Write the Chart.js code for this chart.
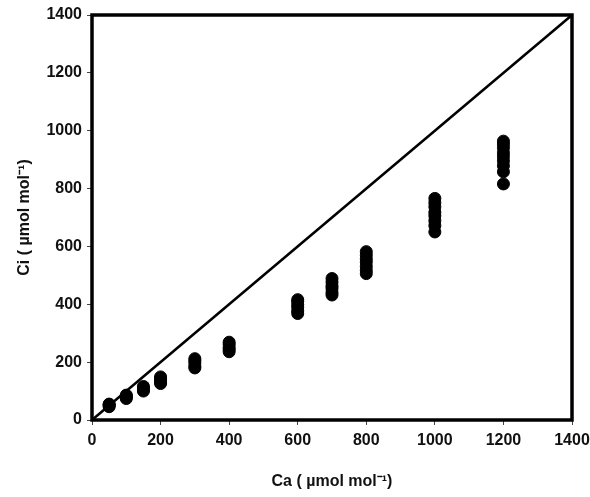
<!DOCTYPE html>
<html>
<head>
<meta charset="utf-8">
<script src="https://cdn.jsdelivr.net/npm/chart.js@4.4.1/dist/chart.umd.min.js"></script>
<style>
  html, body { margin: 0; padding: 0; background: #fff; }
  #wrap { width: 590px; height: 497px; position: relative; }
</style>
</head>
<body>
<div id="wrap"><canvas id="c" width="590" height="497"></canvas></div>
<script>
// Ambient CO2 levels (Ca) and measured intercellular CO2 (Ci) at each level
const caLevels = [50, 100, 150, 200, 300, 400, 600, 700, 800, 1000, 1200];
const ciValues = [
  [46, 50, 53, 55],
  [74, 78, 83, 86],
  [100, 104, 111, 116],
  [126, 131, 137, 144, 149],
  [180, 186, 197, 205, 212],
  [236, 244, 251, 262, 269],
  [368, 377, 390, 399, 410, 416],
  [432, 441, 455, 463, 476, 489],
  [506, 517, 531, 546, 557, 570, 582],
  [650, 672, 689, 706, 718, 737, 751, 766],
  [816, 858, 879, 896, 911, 924, 941, 953, 964]
];
const oneToOne = [0, 1400];
const xTicks = [0, 200, 400, 600, 800, 1000, 1200, 1400];
const yTicks = [0, 200, 400, 600, 800, 1000, 1200, 1400];
const xTitle = 'Ca ( µmol mol⁻¹)';
const yTitle = 'Ci ( µmol mol⁻¹)';

const points = [];
caLevels.forEach((ca, i) => ciValues[i].forEach(ci => points.push({x: ca, y: ci})));

const framePlugin = {
  id: 'frame',
  afterDatasetsDraw(chart) {
    const {ctx, chartArea: a} = chart;
    ctx.save();
    ctx.strokeStyle = '#000';
    ctx.lineWidth = 3.5;
    ctx.strokeRect(a.left, a.top, a.right - a.left, a.bottom - a.top);
    ctx.restore();
  }
};

const font = {family: '"Liberation Sans", Arial, sans-serif', weight: 'bold', size: 16};

new Chart(document.getElementById('c'), {
  type: 'scatter',
  data: {
    datasets: [
      {
        type: 'line',
        data: oneToOne.map(v => ({x: v, y: v})),
        borderColor: '#000',
        borderWidth: 2.5,
        pointRadius: 0,
        fill: false,
        order: 2
      },
      {
        data: points,
        backgroundColor: '#000',
        borderColor: '#000',
        pointRadius: 6,
        pointHoverRadius: 6,
        order: 1
      }
    ]
  },
  options: {
    responsive: false,
    animation: false,
    events: [],
    layout: {padding: {left: 0, right: 18, top: 15, bottom: 0}},
    plugins: {legend: {display: false}, tooltip: {enabled: false}},
    scales: {
      x: {
        type: 'linear',
        min: 0, max: 1400,
        afterBuildTicks: s => { s.ticks = xTicks.map(v => ({value: v})); },
        afterFit: s => { s.height = 77; s.paddingRight = 0; s.paddingLeft = 0; },
        grid: {display: true, drawOnChartArea: false, drawTicks: true, tickLength: 5, color: '#444', lineWidth: 1},
        border: {display: false},
        ticks: {color: '#111', font: font, padding: 6, maxRotation: 0, callback: v => String(v)},
        title: {display: true, text: xTitle, color: '#111', font: {family: font.family, weight: 'bold', size: 16}, padding: {top: 0, bottom: 6}}
      },
      y: {
        type: 'linear',
        min: 0, max: 1400,
        afterBuildTicks: s => { s.ticks = yTicks.map(v => ({value: v})); },
        afterFit: s => { s.width = 92; s.paddingTop = 0; s.paddingBottom = 0; },
        grid: {display: true, drawOnChartArea: false, drawTicks: true, tickLength: 5, color: '#444', lineWidth: 1},
        border: {display: false},
        ticks: {color: '#111', font: font, padding: 5, callback: v => String(v)},
        title: {display: true, text: yTitle, color: '#111', font: {family: font.family, weight: 'bold', size: 16}, padding: {top: 15, bottom: 0}}
      }
    }
  },
  plugins: [framePlugin]
});
</script>
</body>
</html>
